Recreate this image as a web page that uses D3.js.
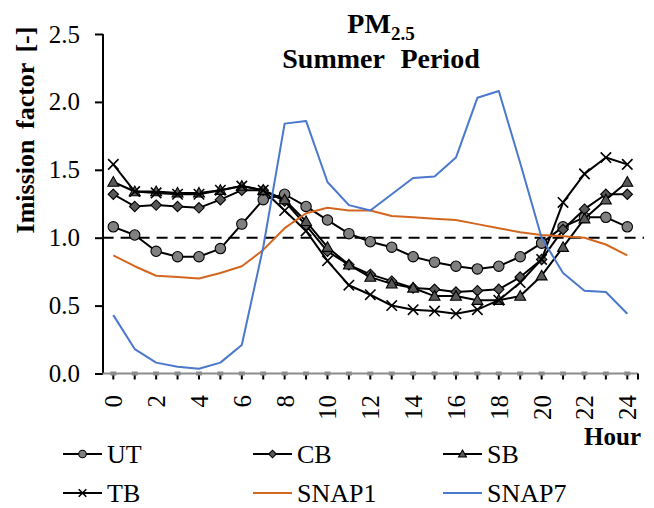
<!DOCTYPE html>
<html>
<head>
<meta charset="utf-8">
<script src="https://cdn.jsdelivr.net/npm/d3@7"></script>
<style>
  html, body { margin: 0; padding: 0; background: #fff; }
  svg { display: block; }
  text { font-family: "Liberation Serif", "Times New Roman", serif; fill: #000; }
</style>
</head>
<body>
<svg id="chart" width="654" height="508"></svg>
<script>
const hours = d3.range(0, 25);
const seriesNames = ["UT", "CB", "SB", "TB", "SNAP1", "SNAP7"];
const UT    = [1.08,1.02,0.90,0.86,0.86,0.92,1.10,1.28,1.32,1.23,1.13,1.03,0.97,0.93,0.86,0.82,0.79,0.77,0.79,0.86,0.96,1.08,1.15,1.15,1.08];
const CB    = [1.32,1.23,1.24,1.23,1.22,1.28,1.35,1.35,1.27,1.09,0.90,0.80,0.73,0.68,0.63,0.62,0.60,0.61,0.62,0.71,0.84,1.06,1.21,1.32,1.32];
const SB    = [1.41,1.34,1.34,1.33,1.33,1.35,1.38,1.35,1.28,1.12,0.93,0.80,0.71,0.66,0.63,0.57,0.57,0.54,0.54,0.57,0.72,0.93,1.14,1.28,1.41];
const TB    = [1.54,1.34,1.33,1.32,1.32,1.35,1.38,1.35,1.20,1.05,0.83,0.65,0.58,0.50,0.47,0.46,0.44,0.47,0.54,0.67,0.84,1.26,1.47,1.59,1.54];
const SNAP1 = [0.87,0.79,0.72,0.71,0.70,0.74,0.79,0.91,1.07,1.18,1.22,1.20,1.20,1.16,1.15,1.14,1.13,1.10,1.07,1.04,1.02,1.01,1.00,0.95,0.87];
const SNAP7 = [0.43,0.18,0.08,0.05,0.035,0.08,0.21,0.93,1.84,1.86,1.41,1.24,1.20,1.32,1.44,1.45,1.59,2.03,2.08,1.55,1.00,0.74,0.61,0.60,0.44];
const yTicks = [0, 0.5, 1.0, 1.5, 2.0, 2.5];
const xTickLabels = d3.range(0, 25, 2);
const referenceValue = 1.0;

const seriesData = [UT, CB, SB, TB, SNAP1, SNAP7];
const seriesStyle = {
  UT:    {color: "#000", width: 2, marker: "circle"},
  CB:    {color: "#000", width: 2, marker: "diamond"},
  SB:    {color: "#000", width: 2, marker: "triangle"},
  TB:    {color: "#000", width: 2, marker: "x"},
  SNAP1: {color: "#D4671F", width: 2, marker: null},
  SNAP7: {color: "#4A78CC", width: 2, marker: null}
};

function markerPath(type, s) {
  if (type === "circle") return d3.symbol(d3.symbolCircle, Math.PI * s * s)();
  if (type === "diamond") return `M0,${-s}L${s},0L0,${s}L${-s},0Z`;
  if (type === "triangle") return `M0,${-s*1.05}L${s*1.05},${s*0.8}L${-s*1.05},${s*0.8}Z`;
  if (type === "x") return `M${-s},${-s}L${s},${s}M${-s},${s}L${s},${-s}`;
  return "";
}
function drawMarker(g, type, s) {
  const p = g.append("path").attr("d", markerPath(type, s));
  if (type === "x") p.attr("fill", "none").attr("stroke", "#000").attr("stroke-width", 1.6);
  else p.attr("fill", type === "circle" ? "#808080" : "#595959").attr("stroke", "#000").attr("stroke-width", 1.1);
}

const svg = d3.select("#chart");
const x = d3.scaleLinear().domain([-0.5, 24.5]).range([102.6, 638]);
const y = d3.scaleLinear().domain([0, 2.5]).range([373.5, 34]);

// Y axis
const yAxis = svg.append("g").attr("transform", "translate(103,0)")
  .call(d3.axisLeft(y).tickValues(yTicks).tickSize(8).tickPadding(15).tickFormat(d3.format(".1f")));
yAxis.select(".domain").attr("stroke", "#000").attr("stroke-width", 2).attr("d", `M0,${y(2.5)}V${y(0)}`);
yAxis.selectAll(".tick line").attr("stroke", "#000").attr("stroke-width", 2);
yAxis.selectAll(".tick text").attr("font-size", 25).attr("font-family", "Liberation Serif").attr("fill", "#000");

// X axis (gray baseline at 0 with hour ticks)
const xg = svg.append("g");
xg.selectAll("line.tk").data(hours).enter().append("line")
  .attr("x1", d => x(d)).attr("x2", d => x(d)).attr("y1", y(0)).attr("y2", y(0) + 6)
  .attr("stroke", "#000").attr("stroke-width", 2);
xg.append("line").attr("x1", x(-0.5)).attr("x2", x(24.5)).attr("y1", y(0)).attr("y2", y(0))
  .attr("stroke", "#8c8c8c").attr("stroke-width", 2);
xg.append("line").attr("x1", x(24.5)).attr("x2", x(24.5)).attr("y1", y(0)).attr("y2", y(0) + 6)
  .attr("stroke", "#000").attr("stroke-width", 2);
xg.selectAll("rect.zero").data(hours).enter().append("rect")
  .attr("x", d => x(d) - 3).attr("y", y(0) - 2).attr("width", 6).attr("height", 4)
  .attr("fill", "#8c8c8c");
xg.selectAll("text.xl").data(xTickLabels).enter().append("text")
  .attr("transform", d => `translate(${x(d) + 9},395) rotate(-90)`)
  .attr("text-anchor", "end").attr("font-size", 25).text(d => d);

// Reference dashed line
svg.append("line").attr("x1", x(-0.5)).attr("x2", 644).attr("y1", y(referenceValue)).attr("y2", y(referenceValue))
  .attr("stroke", "#000").attr("stroke-width", 2).attr("stroke-dasharray", "11,7");

// Series
const line = d3.line().x((d, i) => x(hours[i])).y(d => y(d));
seriesNames.forEach((name, k) => {
  const st = seriesStyle[name];
  const vals = seriesData[k];
  svg.append("path").datum(vals).attr("d", line).attr("fill", "none")
    .attr("stroke", st.color).attr("stroke-width", st.width).attr("stroke-linejoin", "round");
  if (st.marker) {
    vals.forEach((v, i) => {
      const g = svg.append("g").attr("transform", `translate(${x(hours[i])},${y(v)})`);
      drawMarker(g, st.marker, 5.2);
    });
  }
});

// Title
const title = svg.append("text").attr("x", 381).attr("y", 33).attr("text-anchor", "middle")
  .attr("font-size", 28).attr("font-weight", "bold");
title.append("tspan").text("PM");
title.append("tspan").attr("font-size", 19).attr("dy", 7).text("2.5");
svg.append("text").attr("x", 381).attr("y", 68).attr("text-anchor", "middle")
  .attr("font-size", 28).attr("font-weight", "bold").attr("word-spacing", 9).text("Summer Period");

// Y label
svg.append("text").attr("transform", "translate(34,130) rotate(-90)").attr("text-anchor", "middle")
  .attr("font-size", 26).attr("font-weight", "bold").attr("word-spacing", 4).text("Imission factor [-]");

// X label
svg.append("text").attr("x", 641).attr("y", 445).attr("text-anchor", "end")
  .attr("font-size", 25).attr("font-weight", "bold").text("Hour");

// Legend
const legCols = [63, 253, 443];
const legRows = [454, 493];
seriesNames.forEach((name, k) => {
  const st = seriesStyle[name];
  const lx = legCols[k % 3], ly = legRows[Math.floor(k / 3)];
  const g = svg.append("g").attr("transform", `translate(${lx},${ly})`);
  g.append("line").attr("x1", 0).attr("x2", 39).attr("y1", 0).attr("y2", 0)
    .attr("stroke", st.color).attr("stroke-width", 2);
  if (st.marker) {
    const mg = g.append("g").attr("transform", "translate(19.5,0)");
    drawMarker(mg, st.marker, 3.8);
  }
  g.append("text").attr("x", 44).attr("y", 0).attr("dy", "0.35em").attr("font-size", 26).text(name);
});
</script>
</body>
</html>
